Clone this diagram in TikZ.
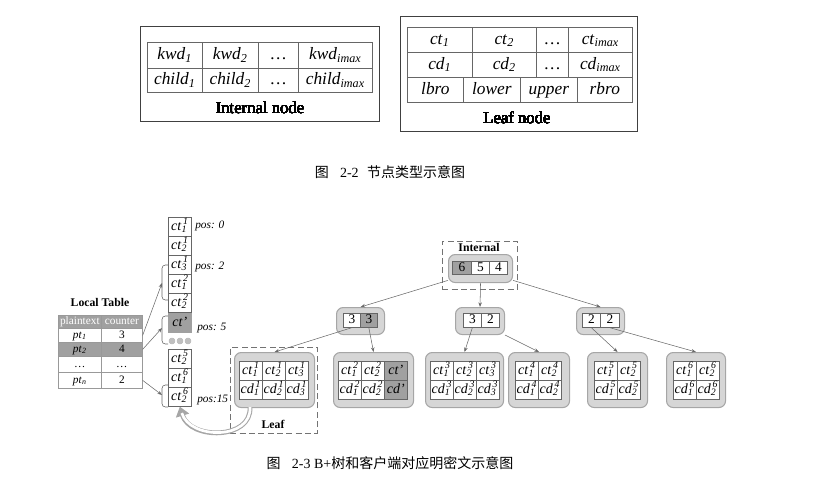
\documentclass[tikz,border=0pt]{standalone}
\usepackage{fontspec}
\setmainfont{Liberation Serif}
\newfontfamily\cjk{Noto Sans CJK SC}
\usepackage{tikz}
\usetikzlibrary{arrows.meta}
\definecolor{framegray}{RGB}{214,214,214}
\definecolor{markgray}{RGB}{160,160,160}
\definecolor{edgegray}{RGB}{105,105,105}
% box from (x1,y1) to (x2,y2), pixel units: [style]{name}{x1}{y1}{x2}{y2}{text}
\newcommand{\cellat}[7][]{\node[tcell,minimum width={(#5-#3)*0.75pt},minimum height={(#6-#4)*0.75pt},#1] (#2) at (#3,#4) {#7};}
% italic name with index and exponent
\newcommand{\ssb}[3]{\textit{#1}\rlap{\kern0.12em\textsuperscript{\itshape #3}}\textsubscript{\itshape #2}\kern0.1em}
\newcommand{\isub}[2]{\textit{#1}\textsubscript{\itshape #2}}

\begin{document}
\begin{tikzpicture}[x=0.75pt, y=-0.75pt,
  tcell/.style={draw=black!60, fill=white, inner sep=0pt, anchor=north west, line width=0.5pt},
  outerbox/.style={tcell, draw=black!75, fill=none, line width=0.7pt},
  roundbox/.style={tcell, draw=black!35, fill=framegray, rounded corners=5pt, line width=0.8pt},
  dashbox/.style={tcell, draw=black!55, fill=none, dash pattern=on 4.5pt off 2.5pt, line width=0.6pt},
  lcell/.style={draw=black!40, font=\fontsize{8.5}{10}\selectfont, text height=6pt, text depth=2pt},
  marked/.style={fill=markgray},
  bigfont/.style={font=\fontsize{13}{15}\selectfont, text height=9.5pt, text depth=3pt},
  smallfont/.style={font=\fontsize{10.5}{12}\selectfont, text height=7.5pt, text depth=2.5pt},
  numfont/.style={font=\fontsize{10}{12}\selectfont, text height=7pt, text depth=2pt},
  boldlabel/.style={font=\bfseries\fontsize{8.8}{10}\selectfont},
  poslabel/.style={anchor=west, inner sep=0pt, font=\itshape\fontsize{8.5}{10}\selectfont},
  captiontext/.style={font=\fontsize{10.5}{12}\selectfont},
  link/.style={draw=edgegray, line width=0.4pt, -{Stealth[length=3.5pt,width=2.6pt]}},
  bracket/.style={draw=edgegray, line width=0.45pt, rounded corners=2.5pt}]
\useasboundingbox (0,0) rectangle (818,490);

% Internal node layout
\cellat[outerbox]{inbox}{140}{26}{379}{121}{}
\foreach \xa/\xb/\i/\txt in {147/202/1/{\isub{kwd}{1}}, 202/258/2/{\isub{kwd}{2}}, 258/298/3/{\dots}, 298/372/4/{\isub{kwd}{imax}}}
  \cellat[bigfont]{kwd\i}{\xa}{42}{\xb}{68}{\txt}
\foreach \xa/\xb/\i/\txt in {147/202/1/{\isub{child}{1}}, 202/258/2/{\isub{child}{2}}, 258/298/3/{\dots}, 298/372/4/{\isub{child}{imax}}}
  \cellat[bigfont]{child\i}{\xa}{68}{\xb}{92}{\txt}
\node[font=\fontsize{12.5}{14}\selectfont] (inname) at (260,108) {Internal node};

% Leaf node layout
\cellat[outerbox]{lfbox}{400}{16}{637}{131}{}
\foreach \xa/\xb/\i/\txt in {407/472/1/{\isub{ct}{1}}, 472/536/2/{\isub{ct}{2}}, 536/568/3/{\dots}, 568/632/4/{\isub{ct}{imax}}}
  \cellat[bigfont]{ct\i}{\xa}{27}{\xb}{52}{\txt}
\foreach \xa/\xb/\i/\txt in {407/472/1/{\isub{cd}{1}}, 472/536/2/{\isub{cd}{2}}, 536/568/3/{\dots}, 568/632/4/{\isub{cd}{imax}}}
  \cellat[bigfont]{cd\i}{\xa}{52}{\xb}{77}{\txt}
\foreach \xa/\xb/\i/\txt in {407/463/1/lbro, 463/520/2/lower, 520/577/3/upper, 577/632/4/rbro}
  \cellat[bigfont]{bro\i}{\xa}{77}{\xb}{102}{\textit{\txt}}
\node[font=\fontsize{12.5}{14}\selectfont] (lfname) at (517,118) {Leaf node};

\node[captiontext] (capA) at (390,172) {{\cjk 图}\hspace{0.8em}2-2\hspace{0.6em}{\cjk 节点类型示意图}};

% Local table
\node[boldlabel] (ltname) at (100,302) {Local Table};
\cellat[lcell,marked,text=white]{lh1}{58}{315}{101}{328}{plaintext}
\cellat[lcell,marked,text=white]{lh2}{101}{315}{142}{328}{counter}
\cellat[lcell]{lp1}{58}{328}{101}{342}{\isub{pt}{1}}
\cellat[lcell]{lc1}{101}{328}{142}{342}{3}
\cellat[lcell,marked]{lp2}{58}{342}{101}{356}{\isub{pt}{2}}
\cellat[lcell,marked]{lc2}{101}{342}{142}{356}{4}
\cellat[lcell]{lp3}{58}{356}{101}{372}{\dots}
\cellat[lcell]{lc3}{101}{356}{142}{372}{\dots}
\cellat[lcell]{lpn}{58}{372}{101}{388}{\isub{pt}{n}}
\cellat[lcell]{lcn}{101}{372}{142}{388}{2}

% Ciphertexts on the client
\foreach \ya/\i/\txt in {217/1/{\ssb{ct}{1}{1}}, 236/2/{\ssb{ct}{2}{1}}, 255/3/{\ssb{ct}{3}{1}}, 274/4/{\ssb{ct}{1}{2}}, 293/5/{\ssb{ct}{2}{2}}, 349/6/{\ssb{ct}{2}{5}}, 368/7/{\ssb{ct}{1}{6}}, 387/8/{\ssb{ct}{2}{6}}}
  \cellat[smallfont]{ctc\i}{168}{\ya}{191}{\ya+19}{\txt}
\cellat[smallfont,marked,draw=markgray]{ctx}{168}{313}{191}{332}{\textit{ct'}}
\foreach \x in {172,180,188}
  \fill[black!25] (\x,341) circle (2.3pt);
\node[poslabel] (pos0) at (195,226) {pos: 0};
\node[poslabel] (pos2) at (195,267) {pos: 2};
\node[poslabel] (pos5) at (197,328) {pos: 5};
\node[poslabel] (pos15) at (197,400) {pos:15};

% Brackets and pointers
\draw[bracket] (168,265) -- (162,265) -- (162,300) -- (168,300);
\draw[bracket] (168,316) -- (162,316) -- (162,344) -- (168,344);
\draw[bracket] (168,385) -- (162,385) -- (162,407) -- (168,407);
\coordinate (gA) at (162,283);
\coordinate (gB) at (162,328);
\coordinate (gC) at (162,395);
\draw[link] (lc1.east) -- (gA);
\draw[link] (lc2.east) -- (gB);
\draw[link] (lcn.east) -- (gC);

% Root
\cellat[dashbox]{indash}{442}{241}{517}{289}{}
\node[boldlabel] (intname) at (479,247) {Internal};
\cellat[roundbox]{rootbox}{448}{254}{512}{282}{}
\cellat[numfont,marked]{r1}{452}{261}{471}{274}{6}
\cellat[numfont]{r2}{471}{261}{489}{274}{5}
\cellat[numfont]{r3}{489}{261}{507}{274}{4}

% Second level
\cellat[roundbox]{abox}{336}{307}{384}{334}{}
\cellat[numfont]{a1}{343}{313}{360}{327}{3}
\cellat[numfont,marked]{a2}{360}{313}{377}{327}{3}
\cellat[roundbox]{bbox}{455}{307}{504}{334}{}
\cellat[numfont]{b1}{463}{313}{481}{327}{3}
\cellat[numfont]{b2}{481}{313}{499}{327}{2}
\cellat[roundbox]{cbox}{576}{307}{624}{334}{}
\cellat[numfont]{c1}{582}{313}{600}{327}{2}
\cellat[numfont]{c2}{600}{313}{619}{327}{2}

% Leaves
\cellat[dashbox]{lfdash}{230}{347}{317}{433}{}
\node[boldlabel] (leafname) at (273,424) {Leaf};
\cellat[roundbox]{leafA}{234}{352}{314}{407}{}
\foreach \xa/\i in {239/1, 262/2, 285/3} {
  \cellat[smallfont]{lat\i}{\xa}{361}{\xa+23}{380}{\ssb{ct}{\i}{1}}
  \cellat[smallfont]{lad\i}{\xa}{380}{\xa+23}{399}{\ssb{cd}{\i}{1}}
}
\cellat[roundbox]{leafB}{333}{352}{413}{407}{}
\foreach \xa/\i in {338/1, 361/2} {
  \cellat[smallfont]{lbt\i}{\xa}{361}{\xa+23}{380}{\ssb{ct}{\i}{2}}
  \cellat[smallfont]{lbd\i}{\xa}{380}{\xa+23}{399}{\ssb{cd}{\i}{2}}
}
\cellat[smallfont,marked]{lbt3}{384}{361}{407}{380}{\textit{ct'}}
\cellat[smallfont,marked]{lbd3}{384}{380}{407}{399}{\textit{cd'}}
\cellat[roundbox]{leafC}{425}{352}{503}{407}{}
\foreach \xa/\i in {430/1, 453/2, 476/3} {
  \cellat[smallfont]{lct\i}{\xa}{361}{\xa+23}{380}{\ssb{ct}{\i}{3}}
  \cellat[smallfont]{lcd\i}{\xa}{380}{\xa+23}{399}{\ssb{cd}{\i}{3}}
}
\cellat[roundbox]{leafD}{508}{352}{569}{407}{}
\foreach \xa/\i in {515/1, 538/2} {
  \cellat[smallfont]{ldt\i}{\xa}{361}{\xa+23}{380}{\ssb{ct}{\i}{4}}
  \cellat[smallfont]{ldd\i}{\xa}{380}{\xa+23}{399}{\ssb{cd}{\i}{4}}
}
\cellat[roundbox]{leafE}{587}{352}{647}{407}{}
\foreach \xa/\i in {594/1, 617/2} {
  \cellat[smallfont]{let\i}{\xa}{361}{\xa+23}{380}{\ssb{ct}{\i}{5}}
  \cellat[smallfont]{led\i}{\xa}{380}{\xa+23}{399}{\ssb{cd}{\i}{5}}
}
\cellat[roundbox]{leafF}{666}{352}{725}{407}{}
\foreach \xa/\i in {673/1, 696/2} {
  \cellat[smallfont]{lft\i}{\xa}{361}{\xa+23}{380}{\ssb{ct}{\i}{6}}
  \cellat[smallfont]{lfd\i}{\xa}{380}{\xa+23}{399}{\ssb{cd}{\i}{6}}
}

% Tree edges
\draw[link] (rootbox.200) -- (abox.north);
\draw[link] (rootbox.south) -- (bbox.north);
\draw[link] (rootbox.-20) -- (cbox.north);
\draw[link] (a1.south) -- (leafA.north);
\draw[link] (a2.south) -- (leafB.north);
\draw[link] (b1.south) -- (leafC.north);
\draw[link] (bbox.south east) -- (leafD.north);
\draw[link] (c1.south) -- (leafE.north);
\draw[link] (c2.south) -- (leafF.north);

% Leaf back to the client
\coordinate (backstart) at (250,407);
\draw[line width=3.6pt, black!35, -{Triangle[length=7pt,width=10pt]}] (backstart) .. controls (252,440) and (190,440) .. (ctc8.south);
\draw[line width=2pt, white, shorten >=5pt] (backstart) .. controls (252,440) and (190,440) .. (ctc8.south);

\node[captiontext] (capB) at (390,463) {{\cjk 图}\hspace{0.8em}2-3 B+{\cjk 树和客户端对应明密文示意图}};
\end{tikzpicture}
\end{document}
